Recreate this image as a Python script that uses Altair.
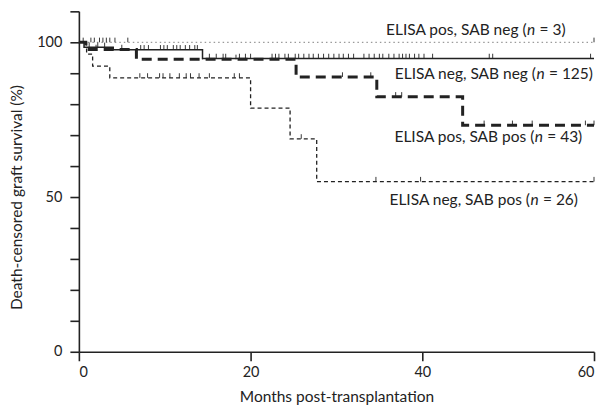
import altair as alt
import pandas as pd
import numpy as np

# ---- data ----
groups = ["ELISA pos, SAB neg", "ELISA neg, SAB neg", "ELISA pos, SAB pos", "ELISA neg, SAB pos"]
n_labels = ["3", "125", "43", "26"]

months_A = [0, 60]
surv_A = [100, 100]
months_B = [0, 0.6, 4.0, 14.4, 60]
surv_B = [100, 98.4, 97.6, 94.8, 94.8]
months_C = [0, 0.8, 6.7, 25.3, 34.7, 44.7, 60]
surv_C = [100, 97.7, 94.5, 88.8, 82.4, 73.2, 73.2]
months_D = [0, 0.9, 1.6, 3.6, 20.0, 24.6, 27.7, 60]
surv_D = [100, 96.2, 92.3, 88.5, 78.7, 68.8, 55.0, 55.0]

cens_A = [0.5, 1.4, 1.8, 2.4, 2.8, 3.2, 3.6, 4.2, 5.7, 60]
cens_B = [1.2, 2.2, 3.0, 7.2, 7.6, 8.1, 9.5, 9.9, 10.3, 11.0, 11.4, 11.8, 12.4, 12.9, 13.5, 13.8,
          15.2, 16.0, 16.8, 17.1, 18.7, 19.4, 20.0, 22.5, 22.9, 23.3, 24.0, 24.4, 25.2, 25.6,
          26.2, 26.8, 27.3, 27.9, 28.5, 29.1, 29.7, 30.3, 30.8, 31.4, 32.0, 33.2, 33.8, 34.4,
          35.0, 35.4, 36.1, 36.7, 37.3, 37.7, 38.1, 38.5, 39.1, 39.6, 40.2, 41.2, 47.8, 48.2, 59.6]
cens_C = [2.0, 5.0, 14.4, 18.3, 30.7, 34.0, 36.9, 37.6, 47.2, 50.5, 52.8, 59.0, 60]
cens_D = [7.1, 8.0, 9.4, 9.8, 10.6, 11.7, 12.5, 13.0, 14.0, 15.2, 18.1, 18.7, 25.9, 34.6, 39.8, 60]

y_tick_values = list(range(0, 111, 10))
y_label_values = [0, 50, 100]
x_tick_values = [0, 20, 40, 60]

label_month = [52.2, 53.3, 53.1, 52.6]   # left edge of the italic n
label_surv = [104.0, 89.8, 69.3, 49.1]

curves = {
    groups[0]: (months_A, surv_A, cens_A),
    groups[1]: (months_B, surv_B, cens_B),
    groups[2]: (months_C, surv_C, cens_C),
    groups[3]: (months_D, surv_D, cens_D),
}

line_rows, cens_rows = [], []
for g, (m, s, c) in curves.items():
    for mi, si in zip(m, s):
        line_rows.append({"group": g, "month": mi, "surv": si})
    for ci in c:
        idx = np.searchsorted(m, ci, side="right") - 1
        cens_rows.append({"group": g, "month": ci, "surv": s[idx]})
lines = pd.DataFrame(line_rows)
cens = pd.DataFrame(cens_rows)

labels = pd.DataFrame({
    "month": label_month,
    "surv": label_surv,
    "prefix": [g + " (" for g in groups],
    "n": ["n"] * 4,
    "suffix": ["= " + v + ")" for v in n_labels],
})

FONT = "Lato"
INK = "#222222"

label_test = "indexof(" + str(y_label_values) + ", datum.value) >= 0 ? datum.label : ''"

x_axis = alt.Axis(values=x_tick_values, title="Months post-transplantation",
                  grid=False, tickSize=9, tickColor=INK, domainColor=INK,
                  domainWidth=1.6, tickWidth=1.6, labelFontSize=14.5, labelColor=INK,
                  labelFont=FONT, labelPadding=5, titleFont=FONT, titleFontSize=15.5,
                  titleFontWeight="normal", titleColor=INK, titlePadding=10)
y_axis = alt.Axis(values=y_tick_values, labelExpr=label_test, labelOverlap=False,
                  title="Death-censored graft survival (%)",
                  grid=False, tickSize=9, tickColor=INK, domainColor=INK,
                  domainWidth=1.6, tickWidth=1.6, labelFontSize=14.5, labelColor=INK,
                  labelFont=FONT, labelPadding=8, titleFont=FONT, titleFontSize=15.5,
                  titleFontWeight="normal", titleColor=INK,
                  titleX=-62, titleY=186, titleAlign="center", titleBaseline="middle")
x_scale = alt.Scale(domain=[0, 60], nice=False)
y_scale = alt.Scale(domain=[0, 110], nice=False)

def X():
    return alt.X("month:Q", scale=x_scale, axis=x_axis)

def Y():
    return alt.Y("surv:Q", scale=y_scale, axis=y_axis)

base = alt.Chart(lines)

styles = {
    groups[0]: dict(color="#9a9a9a", strokeWidth=1.2, strokeDash=[1.5, 3]),
    groups[1]: dict(color=INK, strokeWidth=1.5),
    groups[2]: dict(color=INK, strokeWidth=3, strokeDash=[10, 6]),
    groups[3]: dict(color=INK, strokeWidth=1.3, strokeDash=[4, 3]),
}

layers = []
for g in groups:
    layers.append(
        base.transform_filter(alt.datum.group == g)
        .mark_line(interpolate="step-after", **styles[g])
        .encode(x=X(), y=Y())
    )

cens_layer = (
    alt.Chart(cens)
    .transform_calculate(top="datum.surv + 1.5")
    .mark_rule(color=INK, strokeWidth=0.9)
    .encode(x=X(), y=Y(), y2="top:Q")
)

txt = dict(font=FONT, fontSize=15.5, color=INK, baseline="middle")
prefix_layer = alt.Chart(labels).mark_text(align="right", dx=-0.5, **txt).encode(
    x=X(), y=Y(), text="prefix:N")
n_layer = alt.Chart(labels).mark_text(align="left", fontStyle="italic", **txt).encode(
    x=X(), y=Y(), text="n:N")
suffix_layer = alt.Chart(labels).mark_text(align="left", dx=12.5, **txt).encode(
    x=X(), y=Y(), text="suffix:N")

chart = (
    alt.layer(*layers, cens_layer, prefix_layer, n_layer, suffix_layer)
    .properties(width=516, height=341,
                autosize=alt.AutoSizeParams(type="none"),
                padding={"left": 71, "top": 3, "right": 4, "bottom": 60})
    .configure_view(stroke=None)
    .configure_axis(labelOverlap=False)
)

chart.save("out.html", embed_options={"renderer": "svg", "actions": False})
